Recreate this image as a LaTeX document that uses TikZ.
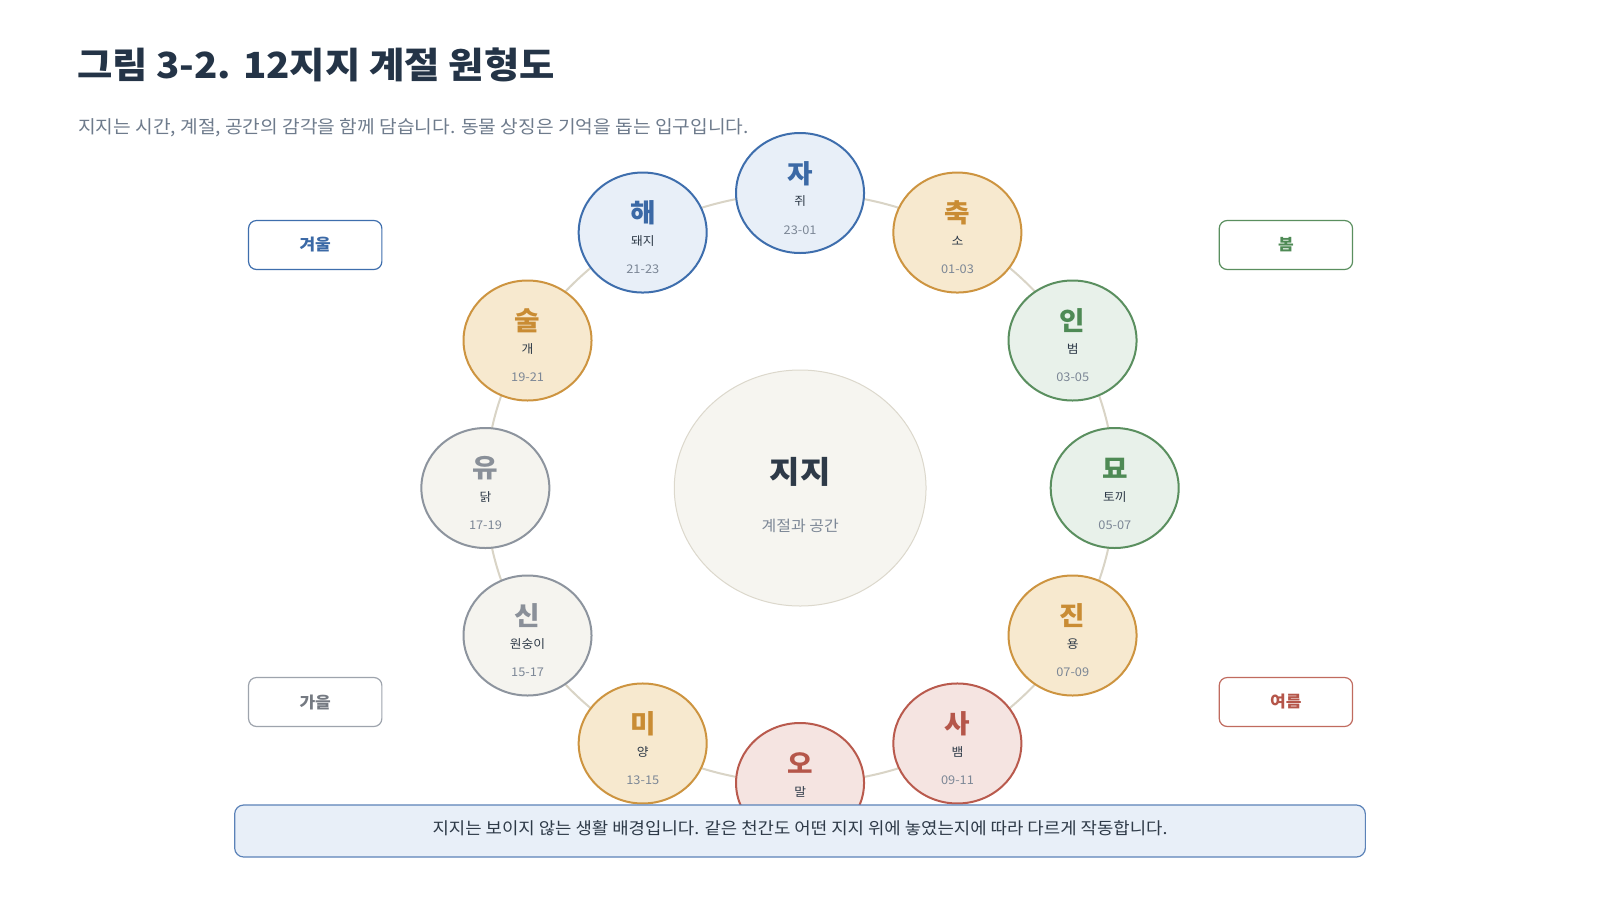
\documentclass[tikz,border=0pt]{standalone}
\usepackage{fontspec}
\setmainfont{Noto Sans CJK KR}
\usetikzlibrary{calc}
\definecolor{titlec}{HTML}{243447}
\definecolor{subc}{HTML}{6E7B8C}
\definecolor{darkc}{HTML}{2E3A48}
\definecolor{timec}{HTML}{7C8796}
\definecolor{ringc}{HTML}{D9D4C6}
\definecolor{wfill}{HTML}{E8EFF8}\definecolor{wline}{HTML}{3E6EAD}\definecolor{wtext}{HTML}{3B69A6}
\definecolor{efill}{HTML}{F7E9CF}\definecolor{eline}{HTML}{CD9440}\definecolor{etext}{HTML}{C98C34}
\definecolor{sfill}{HTML}{E8F1EA}\definecolor{sline}{HTML}{5A8F5F}\definecolor{stext}{HTML}{4E8A55}
\definecolor{ufill}{HTML}{F5E4E1}\definecolor{uline}{HTML}{B95A4D}\definecolor{utext}{HTML}{B5564A}
\definecolor{afill}{HTML}{F5F4EF}\definecolor{aline}{HTML}{8D949E}\definecolor{atext}{HTML}{8A9099}
\definecolor{cfill}{HTML}{F6F5F0}\definecolor{cline}{HTML}{DCD8CC}
\definecolor{bfill}{HTML}{E8EFF8}\definecolor{bline}{HTML}{5B82B8}
\colorlet{winter-text}{wtext}
\colorlet{earth-text}{etext}
\colorlet{spring-text}{stext}
\colorlet{summer-text}{utext}
\colorlet{autumn-text}{atext}
\tikzset{
  branch/.style={circle, minimum size=120pt, inner sep=0pt, line width=2pt},
  winter/.style={branch, draw=wline, fill=wfill},
  earth/.style={branch, draw=eline, fill=efill},
  spring/.style={branch, draw=sline, fill=sfill},
  summer/.style={branch, draw=uline, fill=ufill},
  autumn/.style={branch, draw=aline, fill=afill},
  letterfont/.style={font=\fontsize{26}{30}\selectfont\bfseries, inner sep=0pt},
  animalfont/.style={font=\fontsize{12}{14}\selectfont, text=darkc, inner sep=0pt},
  timefont/.style={font=\fontsize{12}{14}\selectfont, text=timec, inner sep=0pt},
  season/.style={rectangle, rounded corners=8pt, minimum width=125pt, minimum height=49pt, fill=white, line width=1.2pt, font=\fontsize{16}{18}\selectfont\bfseries},
}
\begin{document}
\begin{tikzpicture}[x=1pt,y=-1pt]
\path[use as bounding box, fill=white] (0,0) rectangle (1600,900);
\begin{scope}[xscale=1.0667, transform shape]
% title and subtitle
\node[anchor=west, inner sep=0pt, text=titlec, font=\fontsize{36}{42}\selectfont\bfseries] (title) at (72,65) {그림 3-2. 12지지 계절 원형도};
\node[anchor=west, inner sep=0pt, text=subc, font=\fontsize{18}{22}\selectfont] (sub) at (73,128) {지지는 시간, 계절, 공간의 감각을 함께 담습니다. 동물 상징은 기억을 돕는 입구입니다.};
% ring
\coordinate (c0) at (750,488);
\draw[ringc, line width=2pt] (c0) circle[radius=295];
% centre
\node[circle, minimum size=236pt, inner sep=0pt, fill=cfill, draw=cline, line width=1pt] (core) at (c0) {};
\node[inner sep=0pt, text=darkc, font=\fontsize{31}{36}\selectfont\bfseries] (coret) at ($(core)+(0,-16)$) {지지};
\node[inner sep=0pt, text=timec, font=\fontsize{15}{18}\selectfont] (cores) at ($(core)+(0,38)$) {계절과 공간};
% branches
\foreach \nm/\ch/\an/\tm/\st/\ang in {
  ja/자/쥐/23-01/winter/90,
  chuk/축/소/01-03/earth/60,
  in/인/범/03-05/spring/30,
  myo/묘/토끼/05-07/spring/0,
  jin/진/용/07-09/earth/-30,
  sa/사/뱀/09-11/summer/-60,
  mi/미/양/13-15/earth/-120,
  sin/신/원숭이/15-17/autumn/-150,
  yu/유/닭/17-19/autumn/180,
  sul/술/개/19-21/earth/150,
  hae/해/돼지/21-23/winter/120}{
  \node[\st] (\nm) at ({750+295*cos(\ang)},{488-295*sin(\ang)}) {};
  \node[letterfont, text=\st-text] (\nm-l) at ($(\nm)+(0,-19.5)$) {\ch};
  \node[animalfont] (\nm-a) at ($(\nm)+(0,8.5)$) {\an};
  \node[timefont] (\nm-t) at ($(\nm)+(0,37)$) {\tm};
}
% 오 (its time label is hidden behind the note)
\node[summer] (o) at (750,783) {};
\node[letterfont, text=summer-text] (o-l) at ($(o)+(0,-19.5)$) {오};
\node[animalfont] (o-a) at ($(o)+(0,8.5)$) {말};
% seasons
\node[season, draw=wline, text=wtext] (winter) at (295.5,245) {겨울};
\node[season, draw=sline, text=stext] (spring) at (1205.5,245) {봄};
\node[season, draw=aline!85, text=atext!85!black] (autumn) at (295.5,702) {가을};
\node[season, draw=uline!90, text=utext] (summer) at (1205.5,702) {여름};
% bottom note
\node[rectangle, rounded corners=9pt, minimum width=1060pt, minimum height=52pt, fill=bfill, draw=bline, line width=1.2pt] (note) at (750,831) {};
\node[inner sep=0pt, text=darkc, font=\fontsize{16.7}{20}\selectfont] (notet) at (750,828) {지지는 보이지 않는 생활 배경입니다. 같은 천간도 어떤 지지 위에 놓였는지에 따라 다르게 작동합니다.};
\end{scope}
\end{tikzpicture}
\end{document}
